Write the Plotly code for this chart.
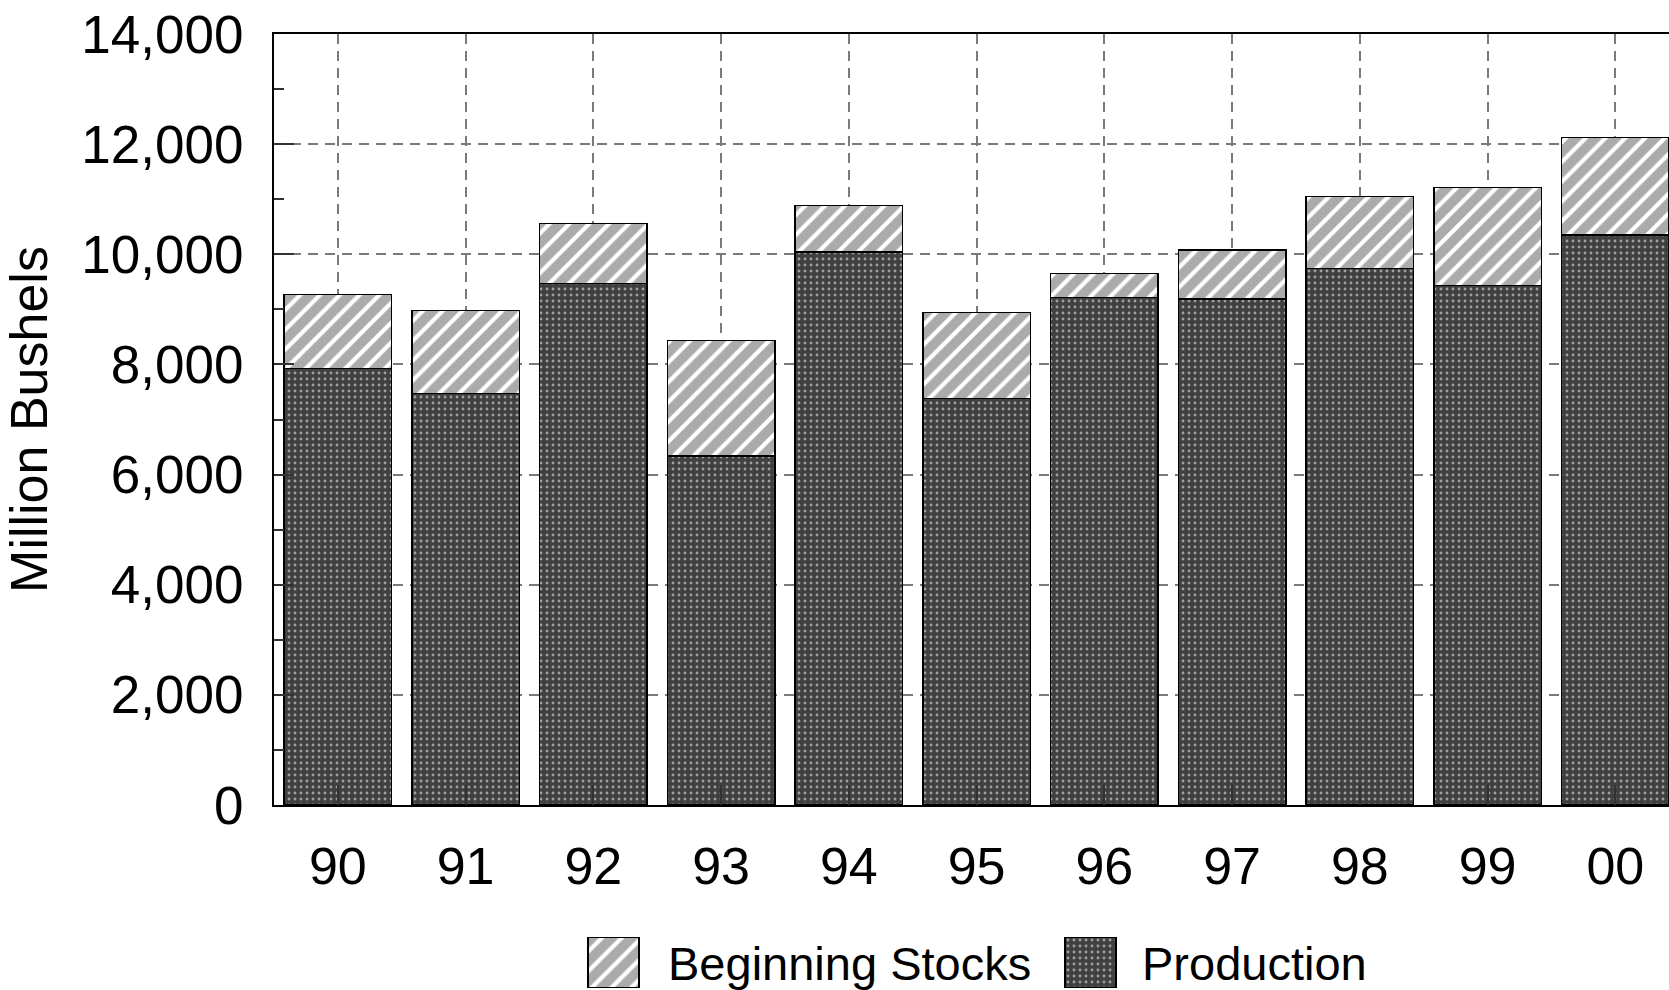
import plotly.graph_objects as go

years = ["90", "91", "92", "93", "94", "95", "96", "97", "98", "99", "00"]
production = [7930, 7476, 9473, 6337, 10042, 7385, 9219, 9188, 9745, 9430, 10350]
beginning_stocks = [1343, 1501, 1089, 2101, 848, 1561, 436, 890, 1301, 1780, 1767]
series_names = ["Beginning Stocks", "Production"]
y_ticks = [0, 2000, 4000, 6000, 8000, 10000, 12000, 14000]
y_tick_labels = ["0", "2,000", "4,000", "6,000", "8,000", "10,000", "12,000", "14,000"]

W, H = 1669, 990
FONT = "Liberation Sans, Arial, Helvetica, sans-serif"

stock_pattern = dict(shape="/", fgcolor="#585858", bgcolor="white", size=14, solidity=0.7)
prod_pattern = dict(shape=".", fgcolor="white", bgcolor="#404040", size=6, solidity=0.18)

fig = go.Figure()
fig.add_trace(go.Bar(
    x=years, y=production, name=series_names[1], width=0.84,
    marker=dict(color="#404040", pattern=prod_pattern, line=dict(color="black", width=1.5)),
    showlegend=False, xaxis="x", yaxis="y"))
fig.add_trace(go.Bar(
    x=years, y=beginning_stocks, name=series_names[0], width=0.84,
    marker=dict(color="white", pattern=stock_pattern, line=dict(color="black", width=1.5)),
    showlegend=False, xaxis="x", yaxis="y"))

# custom legend keys (large swatches) in a small helper subplot
fig.add_trace(go.Bar(
    x=[series_names[0]], y=[1], width=0.107, xaxis="x2", yaxis="y2", showlegend=False,
    hoverinfo="skip",
    marker=dict(color="white", pattern=stock_pattern, line=dict(color="black", width=1.5))))
fig.add_trace(go.Bar(
    x=[series_names[1]], y=[1], width=0.107, xaxis="x2", yaxis="y2", showlegend=False,
    hoverinfo="skip",
    marker=dict(color="#404040", pattern=prod_pattern, line=dict(color="black", width=1.5))))

x0 = 274 / W
fig.update_layout(
    width=W, height=H,
    margin=dict(l=0, r=0, t=0, b=0, autoexpand=False),
    paper_bgcolor="white", plot_bgcolor="white",
    barmode="stack",
    font=dict(family=FONT, color="black"),
    xaxis=dict(
        type="category", domain=[x0, 1], range=[-0.5, 10.42], anchor="y", automargin=False,
        showline=True, linecolor="black", linewidth=2, mirror=True,
        ticks="inside", ticklen=20, tickwidth=1.5, tickcolor="#333",
        showgrid=True, gridcolor="#7a7a7a", gridwidth=1.5, griddash="10px,7px",
        tickfont=dict(size=52, family=FONT), ticklabelstandoff=15,
        zeroline=False, fixedrange=True),
    yaxis=dict(
        domain=[(H - 805) / H, (H - 34) / H], range=[0, 14000], anchor="x", automargin=False,
        tickvals=y_ticks, ticktext=y_tick_labels,
        showline=True, linecolor="black", linewidth=2, mirror=False,
        ticks="inside", ticklen=20, tickwidth=1.5, tickcolor="#333",
        minor=dict(dtick=1000, ticks="inside", ticklen=10, tickwidth=1.5, tickcolor="#333", showgrid=False),
        showgrid=True, gridcolor="#7a7a7a", gridwidth=1.5, griddash="10px,7px",
        tickfont=dict(size=53, family=FONT), ticklabelstandoff=18,
        title=dict(text="Million Bushels", font=dict(size=52, family=FONT), standoff=34),
        zeroline=False, fixedrange=True),
    xaxis2=dict(
        type="category", domain=[375 / W, 1329 / W], range=[-0.5, 1.5], anchor="y2",
        visible=False, fixedrange=True, automargin=False),
    yaxis2=dict(
        domain=[(H - 988) / H, (H - 937) / H], range=[0, 1], anchor="x2",
        visible=False, fixedrange=True, automargin=False),
    showlegend=False,
)

fig.add_annotation(text=series_names[0], xref="paper", yref="paper",
                   x=666 / W, y=(H - 963) / H, xanchor="left", yanchor="middle",
                   showarrow=False, font=dict(size=47, family=FONT, color="black"))
fig.add_annotation(text=series_names[1], xref="paper", yref="paper",
                   x=1140 / W, y=(H - 963) / H, xanchor="left", yanchor="middle",
                   showarrow=False, font=dict(size=47, family=FONT, color="black"))

fig.write_html(
    "out.html",
    config={"displayModeBar": False},
    post_script="document.body.style.margin='0px';document.body.style.padding='0px';document.body.style.overflow='hidden';")
